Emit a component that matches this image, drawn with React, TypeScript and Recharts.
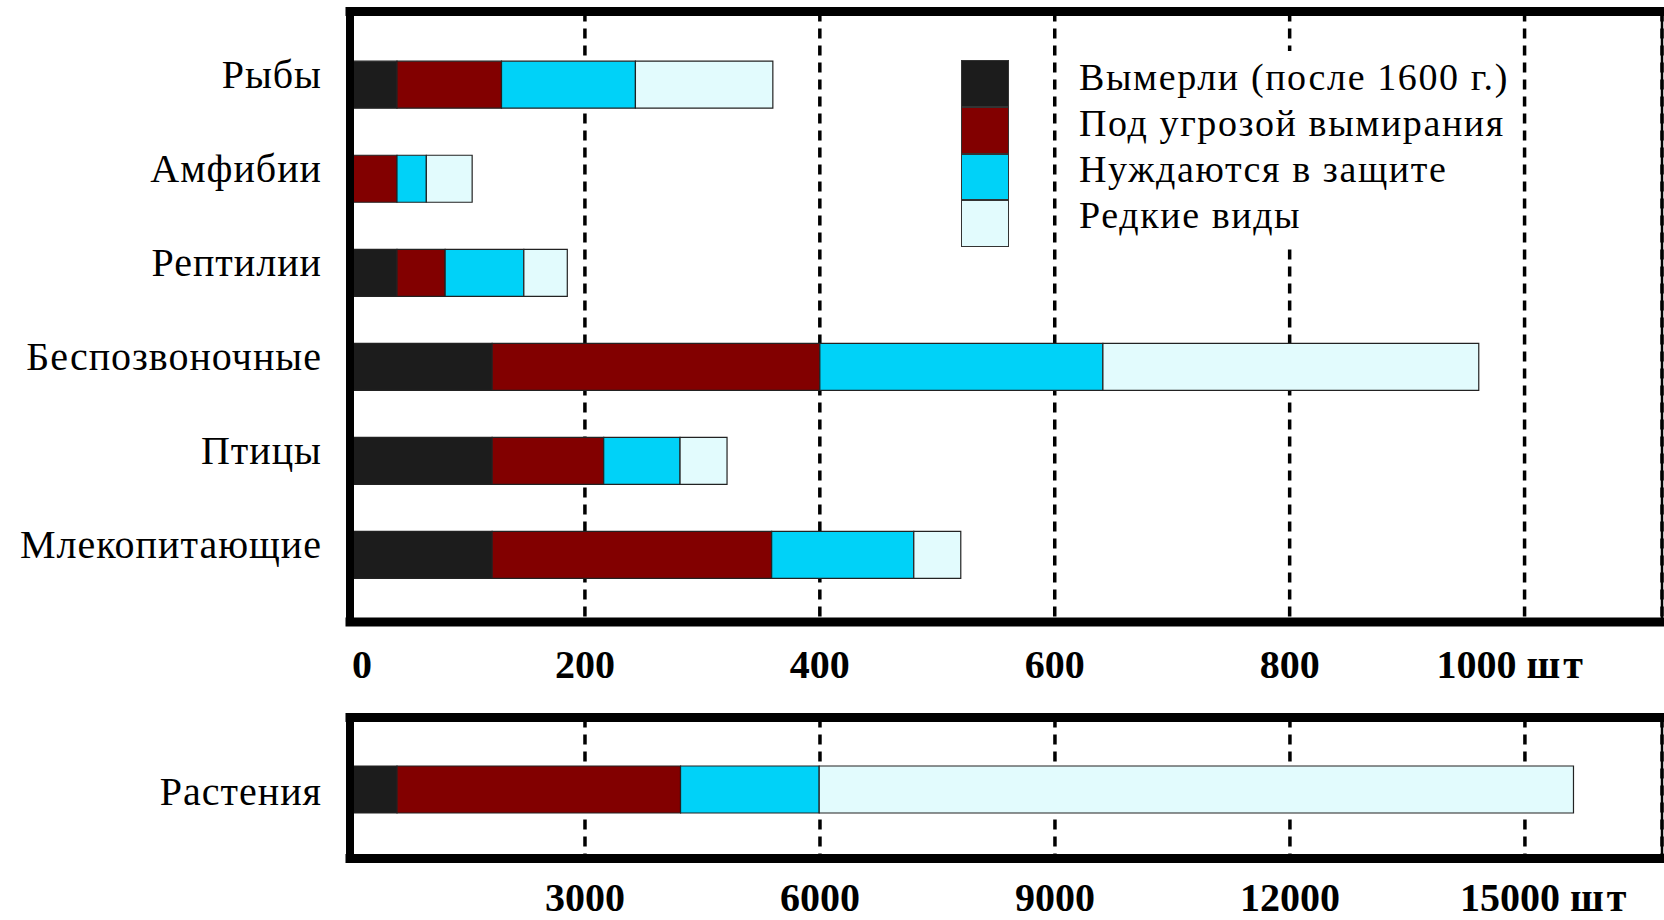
import React from 'react';
import { BarChart, Bar, XAxis, YAxis, CartesianGrid, Legend } from 'recharts';

// ---- data ----
const categories = ['Рыбы', 'Амфибии', 'Рептилии', 'Беспозвоночные', 'Птицы', 'Млекопитающие'];
const extinct = [40, 0, 40, 121, 121, 121];
const endangered = [89, 40, 41, 279, 95, 238];
const vulnerable = [114, 25, 67, 241, 65, 121];
const rare = [117, 39, 37, 320, 40, 40];

const plantCategories = ['Растения'];
const plantExtinct = [600];
const plantEndangered = [3620];
const plantVulnerable = [1770];
const plantRare = [9630];

const seriesKeys = ['extinct', 'endangered', 'vulnerable', 'rare'];
const seriesNames = ['Вымерли (после 1600 г.)', 'Под угрозой вымирания', 'Нуждаются в защите', 'Редкие виды'];
const seriesColors = ['#1c1c1c', '#820000', '#00d2f8', '#e2fbfd'];

const topTicks = [0, 200, 400, 600, 800, 1000];
const bottomTicks = [3000, 6000, 9000, 12000, 15000];
const unitLabel = 'шт';

const topData = categories.map((name, i) => ({
  name,
  extinct: extinct[i],
  endangered: endangered[i],
  vulnerable: vulnerable[i],
  rare: rare[i],
}));
const plantData = plantCategories.map((name, i) => ({
  name,
  extinct: plantExtinct[i],
  endangered: plantEndangered[i],
  vulnerable: plantVulnerable[i],
  rare: plantRare[i],
}));

const FONT = '"Liberation Serif", "Times New Roman", "DejaVu Serif", serif';

const CatTick = (props: any) => {
  const { x, y, payload, shift } = props;
  return (
    <text
      x={x}
      y={y + shift}
      textAnchor="end"
      fontFamily={FONT}
      fontSize={40}
      fill="#000"
      style={{ letterSpacing: 1 }}
    >
      {payload.value}
    </text>
  );
};

const ValTick = (props: any) => {
  const { x, y, payload, last, lastShift, base } = props;
  const v = payload.value;
  const common = {
    y: y + base,
    fontSize: 40,
    fontWeight: 'bold' as const,
    fontFamily: FONT,
    fill: '#000',
  };
  if (v === 0)
    return (
      <text x={x + 2} textAnchor="start" {...common}>
        0
      </text>
    );
  if (v === last)
    return (
      <text x={x - lastShift} textAnchor="start" {...common}>
        {`${v} `}
        <tspan style={{ letterSpacing: 3 }}>{unitLabel}</tspan>
      </text>
    );
  return (
    <text x={x} textAnchor="middle" {...common}>
      {v}
    </text>
  );
};

const LegendContent = () => (
  <div style={{ position: 'relative', width: 570, height: 200 }}>
    {seriesNames.map((n, i) => (
      <div
        key={'sq' + i}
        style={{
          position: 'absolute',
          left: 6,
          top: 9 + i * 46.8,
          width: 48,
          height: 46.8,
          background: seriesColors[i],
          border: '1.5px solid #333',
          boxSizing: 'border-box',
        }}
      />
    ))}
    <div
      style={{
        position: 'absolute',
        left: 111,
        top: 0,
        width: 453,
        height: 197,
        background: '#fff',
        paddingLeft: 13,
        paddingTop: 3,
        boxSizing: 'border-box',
      }}
    >
      {seriesNames.map((n, i) => (
        <div
          key={'tx' + i}
          style={{
            height: 46,
            lineHeight: '46px',
            fontSize: 38,
            fontFamily: FONT,
            letterSpacing: 1.6,
            whiteSpace: 'nowrap',
            color: '#000',
          }}
        >
          {n}
        </div>
      ))}
    </div>
  </div>
);

const frameLine = { stroke: '#000', strokeWidth: 9, strokeLinecap: 'square' as const };

export default function App() {
  return (
    <div style={{ position: 'absolute', left: 0, top: 0, width: 1664, height: 920, background: '#fff' }}>
      <div style={{ position: 'absolute', left: 0, top: 0 }}>
        <BarChart
          width={1664}
          height={700}
          data={topData}
          layout="vertical"
          margin={{ top: 10.5, right: 1, bottom: 0, left: 0 }}
        >
          <CartesianGrid
            xAxisId="main"
            yAxisId="main"
            horizontal={false}
            stroke="#000"
            strokeWidth={3.5}
            strokeDasharray="10 7"
          />
          {seriesKeys.map((k, i) => (
            <Bar
              key={k}
              dataKey={k}
              name={seriesNames[i]}
              stackId="a"
              fill={seriesColors[i]}
              stroke="#222"
              strokeWidth={1.2}
              xAxisId="main"
              yAxisId="main"
              barSize={47}
              isAnimationActive={false}
            />
          ))}
          <XAxis
            xAxisId="main"
            type="number"
            domain={[0, 1117]}
            ticks={topTicks}
            interval={0}
            height={78}
            tickSize={0}
            tickMargin={0}
            tickLine={false}
            axisLine={frameLine}
            allowDataOverflow
            tick={(p: any) => <ValTick {...p} last={1000} lastShift={88} base={56} />}
          />
          <XAxis
            xAxisId="top"
            orientation="top"
            type="number"
            domain={[0, 1117]}
            height={1}
            tick={false}
            tickLine={false}
            axisLine={frameLine}
          />
          <YAxis
            yAxisId="main"
            type="category"
            dataKey="name"
            width={350}
            tickSize={0}
            tickMargin={28}
            tickLine={false}
            interval={0}
            axisLine={{ stroke: '#000', strokeWidth: 8, strokeLinecap: 'square' }}
            padding={{ top: 25.7, bottom: 20.5 }}
            tick={(p: any) => <CatTick {...p} shift={4} />}
          />
          <YAxis
            yAxisId="right"
            orientation="right"
            type="category"
            dataKey="name"
            width={1}
            tick={false}
            tickLine={false}
            axisLine={{ stroke: '#000', strokeWidth: 2.5 }}
          />
          <Legend
            layout="vertical"
            align="center"
            verticalAlign="middle"
            content={LegendContent}
            wrapperStyle={{ position: 'absolute', left: 955, top: 51, width: 570, height: 200 }}
          />
        </BarChart>
      </div>
      <div style={{ position: 'absolute', left: 0, top: 700 }}>
        <BarChart
          width={1664}
          height={220}
          data={plantData}
          layout="vertical"
          margin={{ top: 16.5, right: 1, bottom: 0, left: 0 }}
        >
          <CartesianGrid
            xAxisId="main"
            yAxisId="main"
            horizontal={false}
            stroke="#000"
            strokeWidth={3.5}
            strokeDasharray="10 7"
          />
          {seriesKeys.map((k, i) => (
            <Bar
              key={k}
              dataKey={k}
              name={seriesNames[i]}
              stackId="a"
              fill={seriesColors[i]}
              stroke="#222"
              strokeWidth={1.2}
              xAxisId="main"
              yAxisId="main"
              barSize={47}
              isAnimationActive={false}
            />
          ))}
          <XAxis
            xAxisId="main"
            type="number"
            domain={[0, 16750]}
            ticks={bottomTicks}
            interval={0}
            height={61.5}
            tickSize={0}
            tickMargin={0}
            tickLine={false}
            axisLine={frameLine}
            allowDataOverflow
            tick={(p: any) => <ValTick {...p} last={15000} lastShift={65} base={52} />}
          />
          <XAxis
            xAxisId="top"
            orientation="top"
            type="number"
            domain={[0, 16750]}
            height={1}
            tick={false}
            tickLine={false}
            axisLine={frameLine}
          />
          <YAxis
            yAxisId="main"
            type="category"
            dataKey="name"
            width={350}
            tickSize={0}
            tickMargin={28}
            tickLine={false}
            interval={0}
            axisLine={{ stroke: '#000', strokeWidth: 8, strokeLinecap: 'square' }}
            padding={{ top: 24.5, bottom: 22.5 }}
            tick={(p: any) => <CatTick {...p} shift={16} />}
          />
          <YAxis
            yAxisId="right"
            orientation="right"
            type="category"
            dataKey="name"
            width={1}
            tick={false}
            tickLine={false}
            axisLine={{ stroke: '#000', strokeWidth: 2.5 }}
          />
        </BarChart>
      </div>
    </div>
  );
}
